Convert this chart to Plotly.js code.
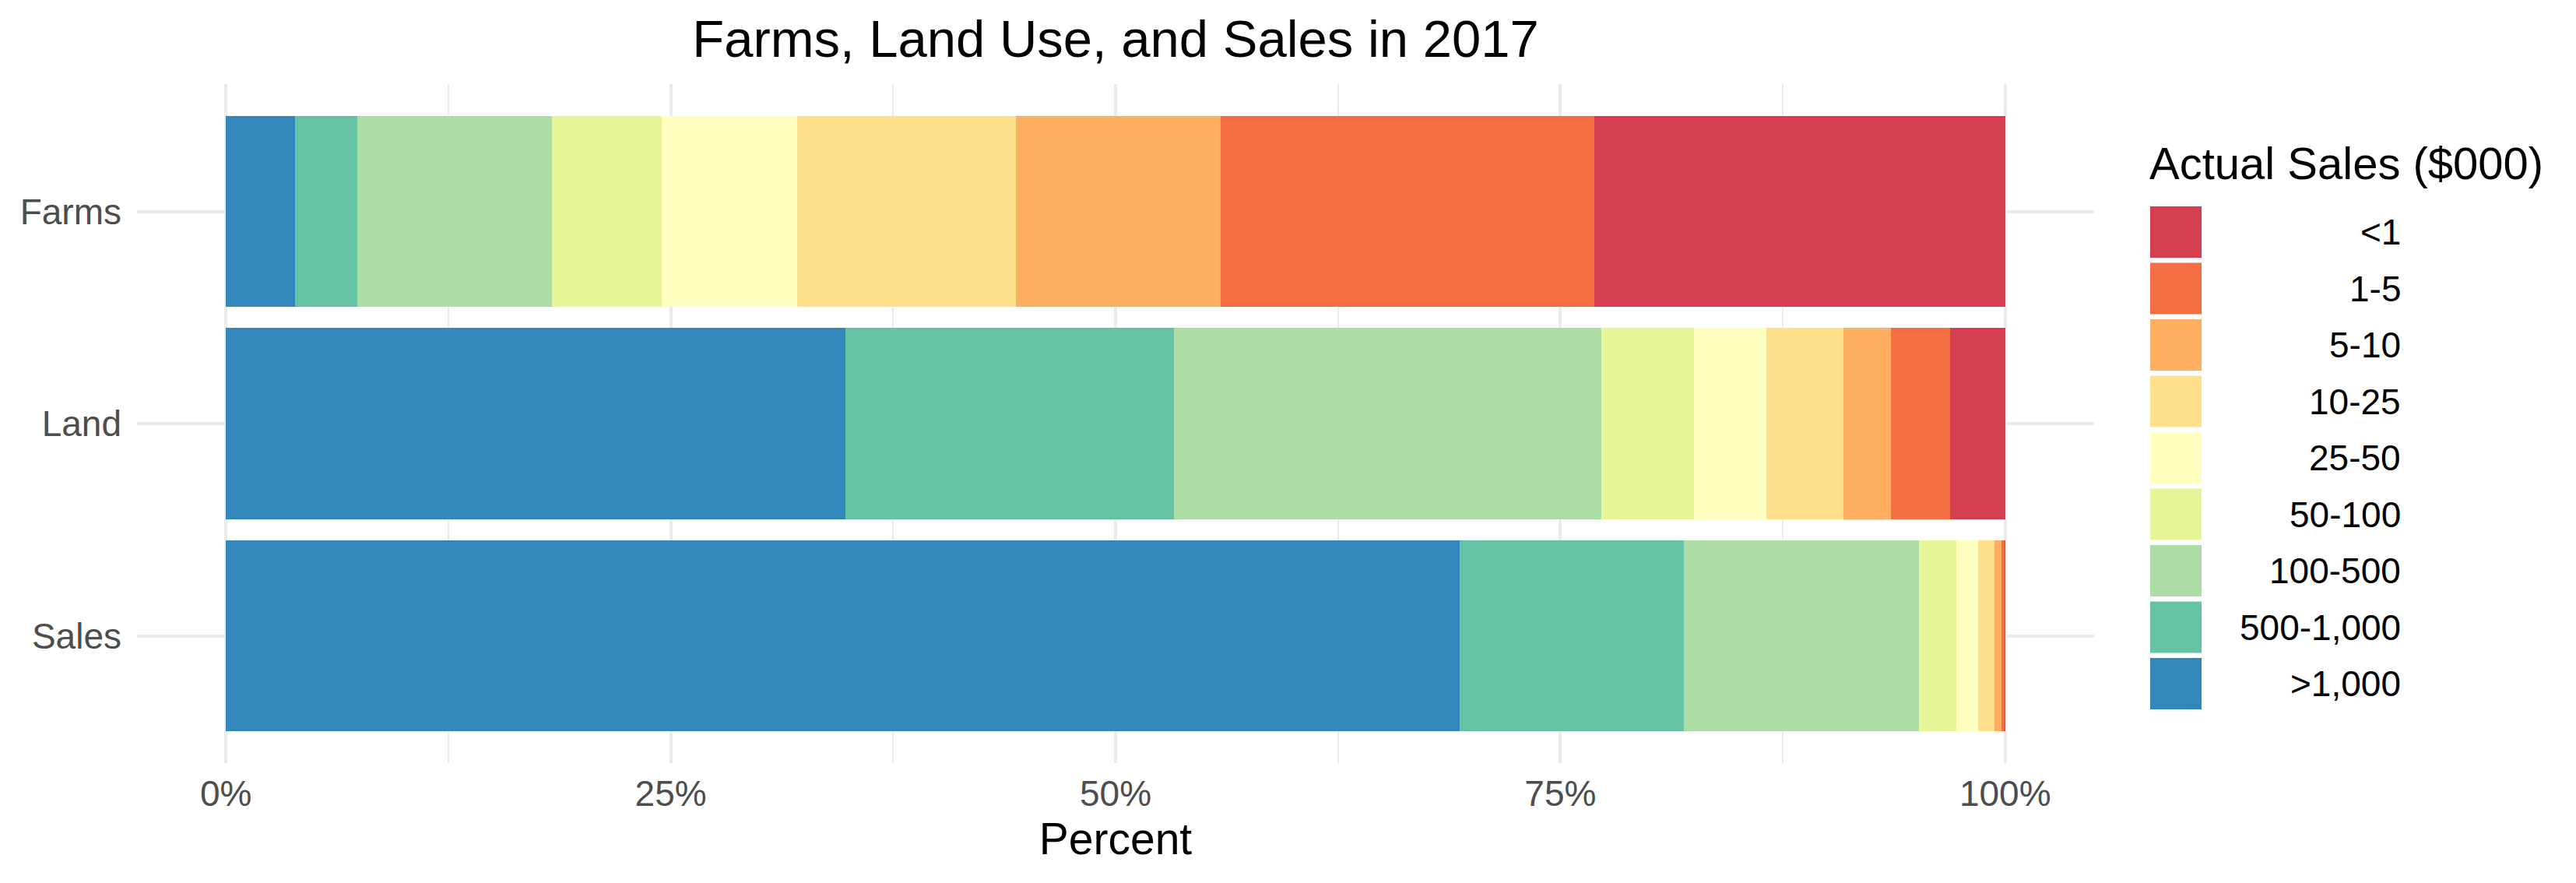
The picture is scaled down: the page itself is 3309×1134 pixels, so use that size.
<!DOCTYPE html>
<html>
<head>
<meta charset="utf-8">
<script src="https://cdn.plot.ly/plotly-3.0.1.min.js"></script>
<style>html,body{margin:0;padding:0;background:#fff;} #chart{width:3309px;height:1134px;}</style>
</head>
<body>
<div id="chart"></div>
<script>
// ---- data (percent of total) ----
const categories = ['Farms', 'Land', 'Sales'];
const salesClasses = ['>1,000', '500-1,000', '100-500', '50-100', '25-50', '10-25', '5-10', '1-5', '<1'];
const classColors = ['#3288BD', '#66C2A5', '#ABDDA4', '#E6F598', '#FFFFBF', '#FEE08B', '#FDAE61', '#F46D43', '#D53E4F'];
const farmsPct = [3.9, 3.5, 10.9, 6.2, 7.6, 12.3, 11.5, 21.0, 23.1];
const landPct  = [34.8, 18.5, 24.0, 5.2, 4.1, 4.3, 2.7, 3.3, 3.1];
const salesPct = [69.35, 12.6, 13.2, 2.1, 1.25, 0.9, 0.4, 0.15, 0.05];
const xTickVals = [0, 25, 50, 75, 100];
const xTickText = ['0%', '25%', '50%', '75%', '100%'];

// ---- geometry ----
const W = 3309, H = 1134;
const M = {l: 176, r: W - 2690, t: 108, b: H - 980};
const plotW = W - M.l - M.r, plotH = H - M.t - M.b;
const px2x = px => (px - M.l) / plotW;
const px2y = py => (H - M.b - py) / plotH;
const FONT = '"Liberation Sans", Arial, sans-serif';

const traces = salesClasses.map((cls, i) => ({
  type: 'bar',
  orientation: 'h',
  name: cls,
  y: categories,
  x: [farmsPct[i], landPct[i], salesPct[i]],
  width: 0.9,
  marker: {color: classColors[i], line: {width: 0}},
  showlegend: false,
  hoverinfo: 'x+y+name'
}));

// custom legend (ggplot-style): <1 at top down to >1,000
const shapes = [];
const annotations = [];
const keyX0 = 2762, keySize = 66, keyY0 = 265, keyPitch = 72.5, labelRight = 3086;
const legendOrder = salesClasses.map((c, i) => i).reverse();
legendOrder.forEach((ci, k) => {
  const top = keyY0 + k * keyPitch;
  shapes.push({
    type: 'rect', xref: 'paper', yref: 'paper',
    x0: px2x(keyX0), x1: px2x(keyX0 + keySize),
    y0: px2y(top + keySize), y1: px2y(top),
    fillcolor: classColors[ci], line: {width: 0}, layer: 'above'
  });
  annotations.push({
    xref: 'paper', yref: 'paper',
    x: px2x(labelRight), y: px2y(top + keySize / 2),
    xanchor: 'right', yanchor: 'middle', showarrow: false,
    text: salesClasses[ci],
    font: {family: FONT, size: 46, color: '#000000'}
  });
});
annotations.push({
  xref: 'paper', yref: 'paper',
  x: px2x(2759), y: px2y(209),
  xanchor: 'left', yanchor: 'middle', showarrow: false,
  text: 'Actual Sales ($000)',
  font: {family: FONT, size: 58, color: '#000000'}
});

const layout = {
  width: W, height: H,
  margin: M,
  paper_bgcolor: '#ffffff',
  plot_bgcolor: '#ffffff',
  barmode: 'stack',
  showlegend: false,
  font: {family: FONT},
  title: {
    text: 'Farms, Land Use, and Sales in 2017',
    font: {family: FONT, size: 67, color: '#000000'},
    xref: 'paper', x: 0.5, xanchor: 'center',
    yref: 'container', y: 1 - 50 / H, yanchor: 'middle'
  },
  xaxis: {
    range: [-5, 105],
    tickvals: xTickVals, ticktext: xTickText,
    showgrid: true, gridcolor: '#EBEBEB', gridwidth: 4,
    minor: {dtick: 12.5, tick0: 0, showgrid: true, gridcolor: '#EBEBEB', gridwidth: 2},
    zeroline: false, showline: false, ticks: '',
    ticklabelstandoff: 8,
    tickfont: {family: FONT, size: 46, color: '#4D4D4D'},
    title: {text: 'Percent', font: {family: FONT, size: 57, color: '#000000'}, standoff: 12},
    automargin: false, fixedrange: true
  },
  yaxis: {
    type: 'category',
    categoryorder: 'array', categoryarray: categories,
    range: [2.6, -0.6],
    showgrid: true, gridcolor: '#EBEBEB', gridwidth: 4,
    zeroline: false, showline: false, ticks: '',
    ticklabelstandoff: 19,
    tickfont: {family: FONT, size: 46, color: '#4D4D4D'},
    automargin: false, fixedrange: true
  },
  shapes: shapes,
  annotations: annotations
};

Plotly.newPlot('chart', traces, layout, {displayModeBar: false, staticPlot: true});
</script>
</body>
</html>
